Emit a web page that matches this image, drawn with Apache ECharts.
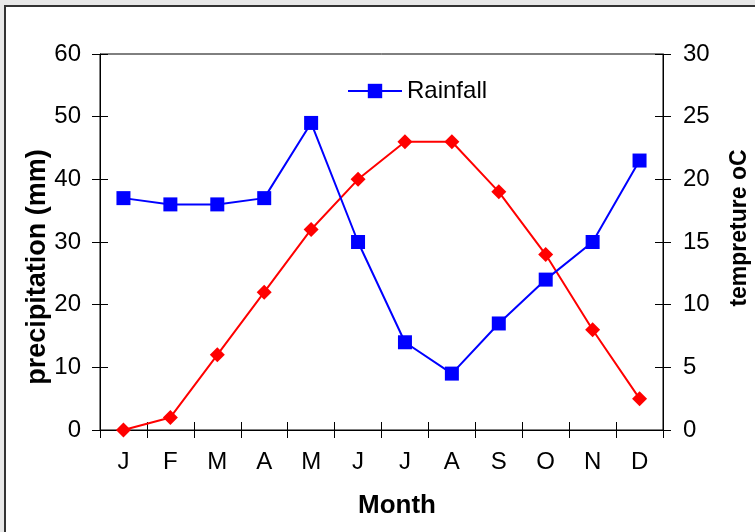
<!DOCTYPE html>
<html>
<head>
<meta charset="utf-8">
<script src="https://cdn.jsdelivr.net/npm/echarts@6/dist/echarts.min.js"></script>
<style>
html,body{margin:0;padding:0;width:755px;height:532px;overflow:hidden;background:#e8e8e8;}
#frame{position:absolute;left:4px;top:5px;width:800px;height:600px;background:#fff;border:2px solid #333;}
#chart{position:absolute;left:0;top:0;width:755px;height:532px;}
</style>
</head>
<body>
<div id="frame"></div>
<div id="chart"></div>
<script>
var months = ['J','F','M','A','M','J','J','A','S','O','N','D'];
var rainfall = [37,36,36,37,49,30,14,9,17,24,30,43];
var temperature = [0,1,6,11,16,20,23,23,19,14,8,2.5];
var leftTicks = {min:0,max:60,interval:10};
var rightTicks = {min:0,max:30,interval:5};

var chart = echarts.init(document.getElementById('chart'), null, {renderer:'canvas'});
var font = 'Liberation Sans, Arial, sans-serif';
var axisLine = {show:true, lineStyle:{color:'#000', width:1}};
var tick = {show:true, length:8, lineStyle:{color:'#000'}};
chart.setOption({
  animation:false,
  backgroundColor:'transparent',
  textStyle:{fontFamily:font},
  grid:{left:100, right:92, top:54, bottom:102, show:true, borderColor:'#000', borderWidth:1, backgroundColor:'transparent'},
  legend:{
    data:['Rainfall'], left:342, top:74, itemWidth:54, itemHeight:18, itemGap:4,
    textStyle:{fontSize:24, color:'#000', fontFamily:font}
  },
  graphic:[
    {type:'text', x:38, y:267, rotation:Math.PI/2, style:{text:'precipitation (mm)', fontSize:27, fontWeight:'bold', fontFamily:font, fill:'#000', align:'center', verticalAlign:'middle'}},
    {type:'text', x:740, y:228, rotation:Math.PI/2, style:{text:'tempreture oC', fontSize:23, fontWeight:'bold', fontFamily:font, fill:'#000', align:'center', verticalAlign:'middle'}},
    {type:'text', x:397, y:506, style:{text:'Month', fontSize:26, fontWeight:'bold', fontFamily:font, fill:'#000', align:'center', verticalAlign:'middle'}}
  ],
  xAxis:[
    {type:'category', data:months, boundaryGap:true, axisLine:axisLine, axisTick:tick,
     axisLabel:{fontSize:24, color:'#000', margin:20, fontFamily:font}},
    {type:'category', data:months, position:'bottom', boundaryGap:true, axisLine:{show:false},
     axisTick:{show:true, inside:true, length:8, lineStyle:{color:'#000'}}, axisLabel:{show:false}}
  ],
  yAxis:[
    {type:'value', position:'left', min:leftTicks.min, max:leftTicks.max, interval:leftTicks.interval,
     axisLine:axisLine, axisTick:tick, splitLine:{show:false},
     axisLabel:{fontSize:24, color:'#000', margin:19, fontFamily:font}},
    {type:'value', position:'right', min:rightTicks.min, max:rightTicks.max, interval:rightTicks.interval,
     axisLine:axisLine, axisTick:tick, splitLine:{show:false},
     axisLabel:{fontSize:24, color:'#000', margin:20, fontFamily:font}},
    {type:'value', position:'left', min:leftTicks.min, max:leftTicks.max, interval:leftTicks.interval,
     axisLine:{show:false}, axisTick:{show:true, inside:true, length:8, lineStyle:{color:'#000'}}, splitLine:{show:false}, axisLabel:{show:false}},
    {type:'value', position:'right', min:rightTicks.min, max:rightTicks.max, interval:rightTicks.interval,
     axisLine:{show:false}, axisTick:{show:true, inside:true, length:8, lineStyle:{color:'#000'}}, splitLine:{show:false}, axisLabel:{show:false}}
  ],
  series:[
    {name:'Rainfall', type:'line', data:rainfall, yAxisIndex:0, symbol:'rect', symbolSize:14,
     lineStyle:{color:'#0000ff', width:2}, itemStyle:{color:'#0000ff'}, z:3},
    {name:'Temperature', type:'line', data:temperature, yAxisIndex:1, symbol:'diamond', symbolSize:15,
     lineStyle:{color:'#ff0000', width:2}, itemStyle:{color:'#ff0000'}, z:2}
  ]
});
</script>
</body>
</html>
